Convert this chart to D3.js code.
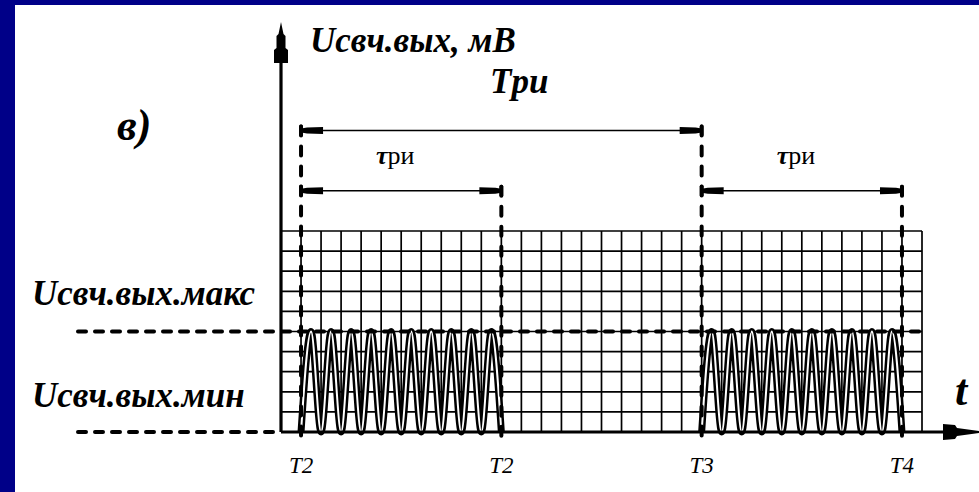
<!DOCTYPE html>
<html>
<head>
<meta charset="utf-8">
<script src="https://cdn.jsdelivr.net/npm/d3@7"></script>
<style>
  body { margin: 0; background: #000088; }
  text { font-family: "Liberation Serif", "DejaVu Serif", serif; fill: #000; }
  .lbl { font-weight: bold; font-style: italic; }
</style>
</head>
<body>
<div class="chart"></div>
<script>
var svgWidth = 979;
var svgHeight = 492;

// grid units: 32 columns x 10 rows
var gridCols = 32;
var gridRows = 10;

// time marks under the x axis
var tickLabels = ["T2", "T2", "T3", "T4"];
var tickPos = [1, 11, 21, 31];

// levels
var levelMax = 5;
var levelMin = 0;

// radio pulses (start, length)
var pulseStarts = [1, 21];
var pulseLen = 10;
// carrier samples every half cell within one pulse
var carrier = [0, 5, 0, 5, 0, 5, 0, 5, 0, 5, 0, 5, 0, 5, 0, 5, 0, 5, 0, 5, 0];

// dimension lines: [from, to, level]
var periodDim = [[1, 21, 15]];
var widthDim = [[1, 11, 12], [21, 31, 12]];

var x = d3.scaleLinear().domain([0, gridCols]).range([281, 922]);
var y = d3.scaleLinear().domain([0, gridRows]).range([432, 231]);

var svg = d3.select(".chart")
  .append("svg")
  .attr("width", svgWidth)
  .attr("height", svgHeight)
  .style("display", "block");

// white panel inside the blue frame
svg.append("rect")
  .attr("x", 15).attr("y", 5)
  .attr("width", svgWidth - 15).attr("height", svgHeight - 5)
  .attr("fill", "#fff");

// grid
var grid = svg.append("g").attr("stroke", "#000").attr("stroke-width", 1.7);
grid.selectAll("line.v")
  .data(d3.range(1, gridCols + 1))
  .enter().append("line")
  .attr("x1", d => x(d)).attr("x2", d => x(d))
  .attr("y1", y(0)).attr("y2", y(gridRows));
grid.selectAll("line.h")
  .data(d3.range(1, gridRows + 1))
  .enter().append("line")
  .attr("x1", x(0)).attr("x2", x(gridCols))
  .attr("y1", d => y(d)).attr("y2", d => y(d));

// carrier inside pulses
pulseStarts.forEach(function (s) {
  var line = d3.line()
    .x((d, i) => x(s + i * pulseLen / (carrier.length - 1)))
    .y(d => y(d))
    .curve(d3.curveMonotoneX);
  svg.append("path").attr("d", line(carrier))
    .attr("fill", "none").attr("stroke", "#000").attr("stroke-width", 7);
  svg.append("path").attr("d", line(carrier))
    .attr("fill", "none").attr("stroke", "#fff").attr("stroke-width", 2);
});

// dashed level lines
var dash = svg.append("g")
  .attr("stroke", "#000").attr("stroke-width", 4)
  .attr("stroke-linecap", "round").attr("fill", "none");

dash.append("line")
  .attr("x1", 78).attr("x2", x(gridCols) + 6)
  .attr("y1", y(levelMax)).attr("y2", y(levelMax))
  .attr("stroke-dasharray", "8,9");
dash.append("line")
  .attr("x1", 78).attr("x2", x(0))
  .attr("y1", y(levelMin)).attr("y2", y(levelMin))
  .attr("stroke-dasharray", "8,9");

// dashed vertical marks
var vTops = [15, 12, 15, 12];
dash.selectAll("line.mark")
  .data(tickPos)
  .enter().append("line")
  .attr("x1", d => x(d)).attr("x2", d => x(d))
  .attr("y1", (d, i) => y(vTops[i]) - 4)
  .attr("y2", y(-0.25))
  .attr("stroke-dasharray", "9,11");

// axes
svg.append("line")
  .attr("x1", x(0)).attr("x2", 945)
  .attr("y1", y(0)).attr("y2", y(0))
  .attr("stroke", "#000").attr("stroke-width", 3.2);
svg.append("line")
  .attr("x1", x(0)).attr("x2", x(0))
  .attr("y1", y(0)).attr("y2", 60)
  .attr("stroke", "#000").attr("stroke-width", 3.2);

var ax = x(0);
svg.append("path")
  .attr("d", `M${ax},22 L${ax + 2.5},34 L${ax + 4.5},36 L${ax + 4.5},48 L${ax + 7},50 L${ax + 7},63
    L${ax - 7},63 L${ax - 7},50 L${ax - 4.5},48 L${ax - 4.5},36 L${ax - 2.5},34 Z`)
  .attr("fill", "#000");

var ay = y(0);
svg.append("path")
  .attr("d", `M943,${ay - 8} L955,${ay - 7} L957,${ay - 4} L979,${ay - 1} L979,${ay + 1}
    L957,${ay + 4} L955,${ay + 7} L943,${ay + 8} Z`)
  .attr("fill", "#000");

// dimension lines with arrow heads
function arrowHead(g, xe, yy, dir) {
  g.append("rect")
    .attr("x", xe - 1.8).attr("y", yy - 6).attr("width", 3.6).attr("height", 12)
    .attr("rx", 1.5).attr("fill", "#000");
  g.append("path")
    .attr("d", `M${xe},${yy - 2} L${xe + dir * 6},${yy - 3} L${xe + dir * 22},${yy - 3.5}
      L${xe + dir * 22},${yy + 3.5} L${xe + dir * 6},${yy + 3} L${xe},${yy + 2} Z`)
    .attr("fill", "#000");
}

var dims = svg.append("g");
periodDim.concat(widthDim).forEach(function (d) {
  dims.append("line")
    .attr("x1", x(d[0])).attr("x2", x(d[1]))
    .attr("y1", y(d[2])).attr("y2", y(d[2]))
    .attr("stroke", "#000").attr("stroke-width", 1.6);
  arrowHead(dims, x(d[0]), y(d[2]), 1);
  arrowHead(dims, x(d[1]), y(d[2]), -1);
});

// labels
svg.append("text").attr("class", "lbl")
  .attr("x", 117).attr("y", 140)
  .style("font-size", "44px")
  .text("в)");

svg.append("text").attr("class", "lbl")
  .attr("x", 310).attr("y", 52)
  .style("font-size", "35px")
  .text("Uсвч.вых, мВ");

svg.append("text").attr("class", "lbl")
  .attr("x", 490).attr("y", 93)
  .style("font-size", "35px")
  .text("Tри");

svg.append("text").attr("class", "lbl")
  .attr("x", 32).attr("y", 305)
  .style("font-size", "35px")
  .text("Uсвч.вых.макс");

svg.append("text").attr("class", "lbl")
  .attr("x", 32).attr("y", 407)
  .style("font-size", "35px")
  .text("Uсвч.вых.мин");

svg.append("text").attr("class", "lbl")
  .attr("x", 955).attr("y", 405)
  .style("font-size", "44px")
  .text("t");

widthDim.forEach(function (d) {
  var t = svg.append("text")
    .attr("x", x(d[0]) + 75).attr("y", 164)
    .style("font-size", "26px");
  t.append("tspan").style("font-weight", "bold").style("font-style", "italic").text("τ");
  t.append("tspan").text("ри");
});

svg.selectAll("text.tick")
  .data(tickLabels)
  .enter().append("text")
  .attr("class", "tick")
  .attr("x", (d, i) => x(tickPos[i]))
  .attr("y", 473)
  .attr("text-anchor", "middle")
  .style("font-style", "italic")
  .style("font-size", "23px")
  .text(d => d);
</script>
</body>
</html>
